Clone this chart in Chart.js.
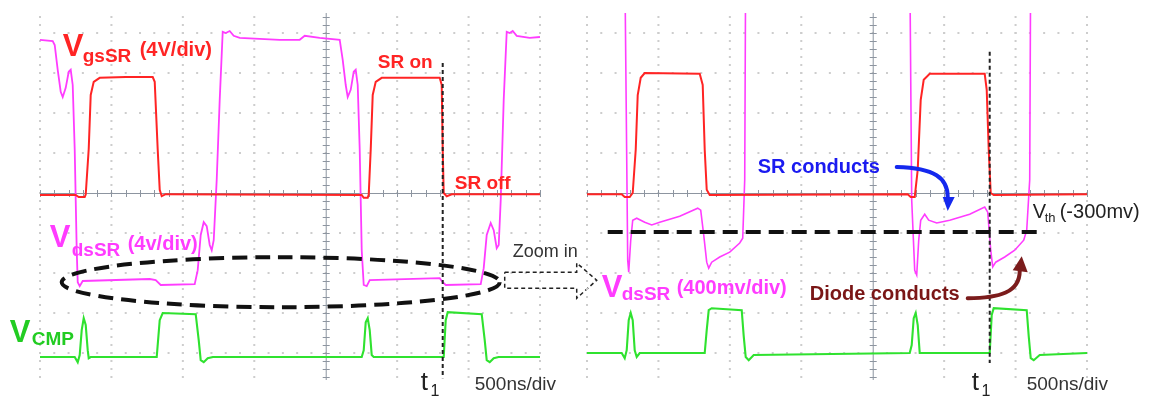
<!DOCTYPE html>
<html>
<head>
<meta charset="utf-8">
<script src="https://cdn.jsdelivr.net/npm/chart.js@4.4.1/dist/chart.umd.min.js"></script>
<style>
  html, body { margin: 0; padding: 0; background: #fff; }
  #wrap { position: relative; width: 1150px; height: 399px; overflow: hidden; }
  #wrap canvas { position: absolute; left: 0; top: 0; }
</style>
</head>
<body>
<div id="wrap">
  <canvas id="leftScope" width="1150" height="399"></canvas>
  <canvas id="rightScope" width="1150" height="399"></canvas>
</div>
<script>
// time in ns (500 ns/div), amplitude in screen divisions
const timeTicks = [-2000, -1500, -1000, -500, 0, 500, 1000, 1500];
const divTicks = [-4, -3, -2, -1, 0, 1, 2, 3, 4];

// left capture: Vgs(SR), Vds(SR) 4V/div, Vcmp
const leftVgs = [[-2000,-0.05],[-1750,-0.05],[-1729,-0.1],[-1687,-0.1],[-1680,-0.04],[-1659,1.1],[-1645,2.45],
  [-1624,2.78],[-1582,2.88],[-1400,2.9],[-1211,2.9],[-1197,2.78],[-1176,1.08],[-1162,0.08],[-1148,-0.08],
  [-1120,-0.03],[252,-0.05],[266,-0.12],[294,-0.12],[301,-0.04],[315,1.08],[329,2.45],[350,2.78],[392,2.88],
  [798,2.88],[812,2.7],[819,1.08],[826,0],[847,-0.08],[882,-0.03],[1500,-0.03]];
const leftVds = [[-2000,3.83],[-1911,3.8],[-1897,3.7],[-1876,3.08],[-1855,2.53],[-1841,2.4],[-1820,2.63],
  [-1799,3.03],[-1785,3.08],[-1771,2.7],[-1757,1.08],[-1743,-1.43],[-1736,-2.23],[-1722,-2.33],[-1701,-2.2],
  [-1232,-2.15],[-1190,-2.18],[-1155,-2.3],[-917,-2.28],[-896,-1.93],[-875,-1.05],[-854,-0.73],[-833,-0.83],
  [-812,-1.3],[-798,-1.43],[-784,-1.18],[-763,0.33],[-742,2.33],[-721,4.03],[-700,4.0],[-672,4.05],
  [-644,3.93],[-602,3.88],[-322,3.83],[-182,3.83],[-147,3.93],[-42,3.88],[98,3.83],[119,3.33],[140,2.7],
  [154,2.4],[175,2.58],[196,3.03],[210,3.08],[224,2.7],[238,1.08],[252,-1.43],[266,-2.3],[287,-2.33],
  [308,-2.18],[798,-2.13],[819,-2.23],[840,-2.3],[1085,-2.28],[1106,-1.88],[1127,-1.05],[1155,-0.75],
  [1176,-0.93],[1197,-1.38],[1211,-1.3],[1225,-0.18],[1246,2.33],[1267,4.03],[1288,4.0],[1309,4.05],
  [1337,3.93],[1428,3.88],[1500,3.9]];
const leftCmp = [[-2000,-4.1],[-1757,-4.1],[-1736,-4.23],[-1722,-4.05],[-1708,-3.43],[-1694,-3.13],
  [-1680,-3.3],[-1666,-3.93],[-1659,-4.13],[-1645,-4.1],[-1183,-4.1],[-1162,-3.18],[-1141,-3.0],
  [-910,-3.03],[-889,-3.68],[-875,-4.18],[-854,-4.23],[-826,-4.13],[-790,-4.1],[252,-4.1],[266,-3.93],
  [280,-3.23],[294,-3.13],[308,-3.43],[322,-4.05],[336,-4.1],[826,-4.1],[840,-3.18],[854,-2.98],
  [1092,-3.03],[1113,-3.68],[1127,-4.18],[1148,-4.23],[1176,-4.13],[1210,-4.1],[1500,-4.1]];

// right capture: Vds(SR) zoomed to 400mV/div (clipped above screen)
const rightVgs = [[-2000,-0.03],[-1757,-0.03],[-1736,-0.1],[-1701,-0.1],[-1680,0],[-1659,1.08],[-1645,2.45],
  [-1624,2.88],[-1596,3.0],[-1211,2.98],[-1190,2.7],[-1176,1.08],[-1162,0.08],[-1141,-0.05],[245,-0.03],
  [266,-0.1],[294,-0.1],[315,0.58],[336,2.33],[357,2.83],[399,2.98],[784,2.98],[798,2.58],[812,1.08],
  [826,0],[847,-0.05],[1500,-0.03]];
const rightVds = [[-2000,6],[-1736,6],[-1715,-1.68],[-1708,-1.98],[-1694,-1.18],[-1680,-0.68],[-1652,-0.63],
  [-1596,-0.73],[-1547,-0.8],[-1491,-0.73],[-1351,-0.58],[-1225,-0.38],[-1204,-0.43],[-1183,-1.05],
  [-1162,-1.73],[-1148,-1.88],[-1127,-1.73],[-1071,-1.6],[-1001,-1.48],[-931,-1.25],[-910,-1.13],
  [-896,0.33],[-889,6],[259,6],[273,-0.18],[294,-1.93],[308,-2.05],[322,-1.18],[336,-0.68],[364,-0.53],
  [392,-0.68],[448,-0.75],[539,-0.68],[679,-0.53],[784,-0.35],[805,-0.48],[826,-1.43],[840,-1.85],
  [861,-1.73],[924,-1.6],[994,-1.43],[1057,-1.18],[1078,-0.93],[1099,0.33],[1106,6],[1500,6]];
const rightCmp = [[-2000,-4.0],[-1757,-4.0],[-1736,-4.13],[-1722,-3.93],[-1708,-3.18],[-1694,-3.0],
  [-1680,-3.18],[-1666,-3.93],[-1652,-4.1],[-1631,-4.0],[-1176,-4.0],[-1162,-3.43],[-1148,-2.93],
  [-1127,-2.88],[-917,-2.93],[-903,-3.58],[-889,-4.1],[-868,-4.18],[-833,-4.05],[259,-4.0],[273,-3.8],
  [287,-3.13],[301,-3.0],[315,-3.3],[329,-4.0],[819,-4.0],[833,-3.05],[847,-2.88],[1078,-2.93],
  [1092,-3.58],[1106,-4.13],[1127,-4.18],[1169,-4.05],[1500,-4.0]];

const RED = '#ff2424', PINK = '#ff3cff', GREEN = '#2fe22f';
const FONT = "'Liberation Sans', Arial, sans-serif";

function P(chart, t, v) {
  return [chart.scales.x.getPixelForValue(t), chart.scales.y.getPixelForValue(v)];
}

const graticule = {
  id: 'graticule',
  beforeDatasetsDraw(chart) {
    const { ctx, chartArea: a, scales: { x, y } } = chart;
    ctx.save();
    ctx.fillStyle = '#cdcdcd';
    timeTicks.forEach(t => {
      if (t === 0) return;
      const px = x.getPixelForValue(t);
      for (let k = Math.ceil(y.min * 5); k <= Math.floor(y.max * 5); k++) {
        ctx.fillRect(px - 1, y.getPixelForValue(k / 5) - 1, 2, 2);
      }
    });
    divTicks.forEach(d => {
      if (d === 0) return;
      const py = y.getPixelForValue(d);
      for (let k = x.min / 100; k <= x.max / 100; k++) {
        ctx.fillRect(x.getPixelForValue(k * 100) - 1, py - 1, 2, 2);
      }
    });
    // centre axes with minor ticks
    const x0 = x.getPixelForValue(0), y0 = y.getPixelForValue(0);
    ctx.strokeStyle = '#8d95a0';
    ctx.lineWidth = 1;
    ctx.beginPath();
    ctx.moveTo(x0 + 0.5, a.top); ctx.lineTo(x0 + 0.5, a.bottom);
    ctx.moveTo(a.left, y0 + 0.5); ctx.lineTo(a.right, y0 + 0.5);
    for (let k = x.min / 100; k <= x.max / 100; k++) {
      const px = Math.round(x.getPixelForValue(k * 100)) + 0.5;
      ctx.moveTo(px, y0 - 3); ctx.lineTo(px, y0 + 4);
    }
    for (let k = Math.ceil(y.min * 5); k <= Math.floor(y.max * 5); k++) {
      const py = Math.round(y.getPixelForValue(k / 5)) + 0.5;
      ctx.moveTo(x0 - 3, py); ctx.lineTo(x0 + 4, py);
    }
    ctx.stroke();
    ctx.restore();
  }
};

function text(chart, str, t, v, size, color, bold) {
  const ctx = chart.ctx;
  const [px, py] = P(chart, t, v);
  ctx.font = (bold ? 'bold ' : '') + size + 'px ' + FONT;
  ctx.fillStyle = color;
  ctx.textBaseline = 'alphabetic';
  ctx.fillText(str, px, py);
}

function dashedLine(chart, pts, dash, width, color) {
  const ctx = chart.ctx;
  ctx.save();
  ctx.setLineDash(dash);
  ctx.lineWidth = width;
  ctx.strokeStyle = color;
  ctx.beginPath();
  pts.forEach(([t, v], i) => {
    const [px, py] = P(chart, t, v);
    i ? ctx.lineTo(px, py) : ctx.moveTo(px, py);
  });
  ctx.stroke();
  ctx.restore();
}

function curvedArrow(chart, c, head, color) {
  const ctx = chart.ctx;
  const p = c.map(([t, v]) => P(chart, t, v));
  ctx.save();
  ctx.strokeStyle = color;
  ctx.fillStyle = color;
  ctx.lineWidth = 4;
  ctx.lineCap = 'round';
  ctx.beginPath();
  ctx.moveTo(p[0][0], p[0][1]);
  ctx.bezierCurveTo(p[1][0], p[1][1], p[2][0], p[2][1], p[3][0], p[3][1]);
  ctx.stroke();
  const h = head.map(([t, v]) => P(chart, t, v));
  ctx.beginPath();
  ctx.moveTo(h[0][0], h[0][1]); ctx.lineTo(h[1][0], h[1][1]); ctx.lineTo(h[2][0], h[2][1]);
  ctx.closePath();
  ctx.fill();
  ctx.restore();
}

function t1AndScale(chart, tT1, tScale) {
  text(chart, 't', tT1, -4.93, 26, '#222');
  text(chart, '1', tT1 + 68, -5.08, 16, '#222');
  text(chart, '500ns/div', tScale, -4.93, 19, '#333');
}

const leftNotes = {
  id: 'leftNotes',
  afterDatasetsDraw(chart) {
    const ctx = chart.ctx;
    text(chart, 'V', -1841, 3.43, 31, RED, true);
    text(chart, 'gsSR', -1701, 3.28, 19, RED, true);
    text(chart, '(4V/div)', -1302, 3.43, 20, RED, true);
    text(chart, 'SR on', 364, 3.13, 19, RED, true);
    text(chart, 'SR off', 903, 0.1, 19, RED, true);
    text(chart, 'V', -1932, -1.35, 31, PINK, true);
    text(chart, 'dsSR', -1778, -1.58, 19, PINK, true);
    text(chart, '(4v/div)', -1386, -1.43, 20, PINK, true);
    text(chart, 'V', -2212, -3.73, 31, '#22cc22', true);
    text(chart, 'CMP', -2058, -3.8, 19, '#22cc22', true);
    text(chart, 'Zoom in', 1309, -1.6, 18, '#333');
    t1AndScale(chart, 665, 1043);
    // t1 marker
    dashedLine(chart, [[819, 3.25], [819, -4.63]], [4, 3], 2, '#222');
    // ellipse round the conduction interval
    const [cx, cy] = P(chart, -315, -2.23);
    const rx = chart.scales.x.getPixelForValue(1533) - chart.scales.x.getPixelForValue(0);
    const ry = chart.scales.y.getPixelForValue(0) - chart.scales.y.getPixelForValue(0.625);
    ctx.save();
    ctx.setLineDash([15, 8]);
    ctx.lineWidth = 4;
    ctx.strokeStyle = '#111';
    ctx.beginPath();
    ctx.ellipse(cx, cy, rx, ry, 0, 0, Math.PI * 2);
    ctx.stroke();
    ctx.restore();
    // dashed block arrow towards the zoomed capture
    dashedLine(chart, [[1253, -1.98], [1757, -1.98], [1757, -1.75], [1897, -2.18], [1757, -2.63],
      [1757, -2.38], [1253, -2.38], [1253, -1.98]], [4, 3], 1.5, '#222');
  }
};

const rightNotes = {
  id: 'rightNotes',
  afterDatasetsDraw(chart) {
    text(chart, 'V', -1897, -2.6, 31, PINK, true);
    text(chart, 'dsSR', -1757, -2.68, 19, PINK, true);
    text(chart, '(400mv/div)', -1372, -2.53, 20, PINK, true);
    text(chart, 'SR conducts', -805, 0.5, 20, '#1a1af0', true);
    text(chart, 'Diode conducts', -441, -2.68, 20, '#7a1616', true);
    text(chart, 'V', 1120, -0.63, 20, '#222');
    text(chart, 'th', 1204, -0.72, 13, '#222');
    text(chart, '(-300mv)', 1309, -0.63, 20, '#222');
    t1AndScale(chart, 693, 1078);
    dashedLine(chart, [[819, 3.53], [819, -4.25]], [4, 3], 2, '#222');
    // Vth threshold
    dashedLine(chart, [[-1855, -0.975], [1204, -0.975]], [15, 8], 4, '#111');
    curvedArrow(chart, [[168, 0.65], [434, 0.625], [525, 0.375], [525, -0.1]],
      [[490, -0.1], [574, -0.1], [525, -0.45]], '#1428ee');
    curvedArrow(chart, [[665, -2.63], [889, -2.63], [1029, -2.48], [1029, -1.95]],
      [[980, -1.93], [1085, -1.98], [1043, -1.58]], '#7b1c1c');
  }
};

function trace(data, color, width) {
  return {
    data: data.map(([t, v]) => ({ x: t, y: v })),
    borderColor: color,
    borderWidth: width,
    pointRadius: 0,
    tension: 0,
    fill: false
  };
}

function scope(id, padLeft, padRight, sets, notes) {
  return new Chart(document.getElementById(id), {
    type: 'line',
    data: { datasets: sets },
    options: {
      responsive: false,
      animation: false,
      events: [],
      layout: { padding: { left: padLeft, right: padRight, top: 13, bottom: 19 } },
      plugins: { legend: { display: false }, tooltip: { enabled: false } },
      scales: {
        x: { type: 'linear', min: timeTicks[0], max: timeTicks[timeTicks.length - 1], display: false },
        y: { type: 'linear', min: -4.675, max: 4.5, display: false }
      }
    },
    plugins: [graticule, notes]
  });
}

scope('leftScope', 40, 610, [
  trace(leftVgs, RED, 2),
  trace(leftVds, PINK, 1.8),
  trace(leftCmp, GREEN, 2.1)
], leftNotes);

scope('rightScope', 587, 63, [
  trace(rightVgs, RED, 2),
  trace(rightVds, PINK, 1.6),
  trace(rightCmp, GREEN, 2.1)
], rightNotes);
</script>
</body>
</html>
